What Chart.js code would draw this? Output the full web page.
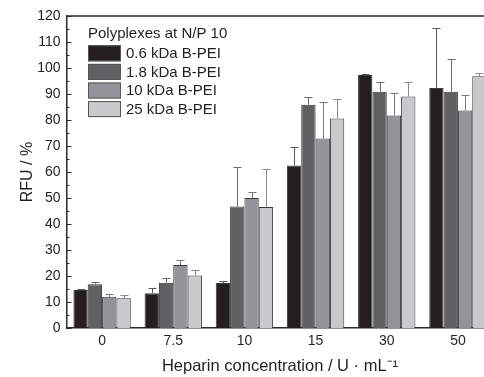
<!DOCTYPE html>
<html>
<head>
<meta charset="utf-8">
<script src="https://cdn.jsdelivr.net/npm/chart.js@4.4.1/dist/chart.umd.min.js"></script>
<style>
  html, body { margin: 0; padding: 0; background: #fff; width: 484px; height: 377px; overflow: hidden; }
  #wrap { width: 500px; height: 377px; }
</style>
</head>
<body>
<div id="wrap"><canvas id="chart" width="500" height="377"></canvas></div>
<script>
// Heparin concentrations (U/mL)
const categories = ['0', '7.5', '10', '15', '30', '50'];
const seriesLabels = ['0.6 kDa B-PEI', '1.8 kDa B-PEI', '10 kDa B-PEI', '25 kDa B-PEI'];

// Relative fluorescence (%) and upper standard deviations
const pei06 = [14.6, 13.4, 17.3, 62.5, 97.3, 92.3];
const pei06Err = [0.5, 2.0, 0.8, 7.3, 0.4, 23.1];
const pei18 = [16.8, 17.4, 46.7, 85.9, 90.9, 90.9];
const pei18Err = [0.9, 1.8, 15.2, 2.9, 3.9, 12.7];
const pei10 = [12.0, 24.2, 50.0, 72.9, 81.7, 83.7];
const pei10Err = [1.2, 2.0, 2.4, 14.0, 8.5, 6.1];
const pei25 = [11.4, 20.2, 46.5, 80.6, 89.0, 96.8];
const pei25Err = [1.4, 2.1, 14.5, 7.3, 5.8, 1.1];

const yMin = 0, yMax = 120, yStep = 10, yMinorStep = 5;

const FONT = "'Liberation Sans', Arial, Helvetica, sans-serif";
const INK = '#231f20';
const fills = ['#231f20', '#616163', '#939497', '#c8c9cb'];
const errColors = ['#5a5a5a', '#6a6a6a', '#7a7a7a', '#8a8a8a'];

const values = [pei06, pei18, pei10, pei25];
const errors = [pei06Err, pei18Err, pei10Err, pei25Err];

const datasets = seriesLabels.map((label, i) => ({
  label,
  data: values[i],
  errors: errors[i],
  errorColor: errColors[i],
  backgroundColor: fills[i],
  borderColor: '#3a3a3a',
  borderWidth: 1,
  categoryPercentage: 0.806,
  barPercentage: 1.0
}));

// Upper error bars with caps
const errorBars = {
  id: 'errorBars',
  afterDatasetsDraw(chart) {
    const ctx = chart.ctx, ys = chart.scales.y;
    ctx.save();
    ctx.lineWidth = 1;
    chart.data.datasets.forEach((ds, i) => {
      chart.getDatasetMeta(i).data.forEach((bar, j) => {
        const v = ds.data[j], e = ds.errors[j];
        const x = Math.round(bar.x) + 0.5;
        const yBar = ys.getPixelForValue(v);
        const yTop = Math.round(ys.getPixelForValue(v + e)) + 0.5;
        ctx.strokeStyle = ds.errorColor;
        ctx.beginPath();
        ctx.moveTo(x, yBar);
        ctx.lineTo(x, yTop);
        ctx.moveTo(x - 4, yTop);
        ctx.lineTo(x + 4, yTop);
        ctx.stroke();
      });
    });
    ctx.restore();
  }
};

// Frame, inward y ticks and the in-plot legend
const frameAndLegend = {
  id: 'frameAndLegend',
  afterDraw(chart) {
    const ctx = chart.ctx, a = chart.chartArea, ys = chart.scales.y;
    ctx.save();
    ctx.strokeStyle = '#2b2b2b';
    ctx.lineWidth = 1.5;
    ctx.beginPath();
    ctx.moveTo(a.left, a.top);
    ctx.lineTo(a.right, a.top);
    ctx.lineTo(a.right, a.bottom);
    ctx.stroke();

    ctx.lineWidth = 1;
    for (let v = yMin; v <= yMax; v += yMinorStep) {
      const y = Math.round(ys.getPixelForValue(v)) + 0.5;
      const len = (v % yStep === 0) ? 5 : 3;
      ctx.beginPath();
      ctx.moveTo(a.left, y);
      ctx.lineTo(a.left + len, y);
      ctx.stroke();
    }

    // legend
    const lx = 88, boxW = 33, boxH = 16, rowH = 18.6, firstRow = 53.3;
    ctx.fillStyle = INK;
    ctx.font = '15px ' + FONT;
    ctx.textBaseline = 'middle';
    ctx.textAlign = 'left';
    ctx.fillText('Polyplexes at N/P 10', lx, 34);
    chart.data.datasets.forEach((ds, i) => {
      const cy = firstRow + i * rowH;
      ctx.fillStyle = ds.backgroundColor;
      ctx.fillRect(lx, cy - boxH / 2, boxW, boxH);
      ctx.strokeStyle = '#555';
      ctx.lineWidth = 1;
      ctx.strokeRect(lx + 0.5, cy - boxH / 2 + 0.5, boxW - 1, boxH - 1);
      ctx.fillStyle = INK;
      ctx.fillText(ds.label, lx + boxW + 5, cy + 0.5);
    });
    ctx.restore();
  }
};

new Chart(document.getElementById('chart'), {
  type: 'bar',
  data: { labels: categories, datasets },
  options: {
    responsive: false,
    animation: false,
    layout: { padding: { left: 0, right: 6.5, top: 16, bottom: 0 } },
    plugins: { legend: { display: false }, tooltip: { enabled: false } },
    scales: {
      x: {
        offset: true,
        grid: { display: false, drawTicks: false },
        border: { display: true, color: '#2b2b2b', width: 1.5 },
        ticks: { color: INK, font: { family: FONT, size: 14 }, padding: 5 },
        title: {
          display: true,
          text: 'Heparin concentration / U · mL⁻¹',
          color: INK,
          font: { family: FONT, size: 16.5 },
          padding: { top: 0, bottom: 1 }
        },
        afterFit(scale) { scale.height = 49; }
      },
      y: {
        min: yMin,
        max: yMax,
        grid: { display: false, drawTicks: false },
        border: { display: true, color: '#2b2b2b', width: 1.5 },
        ticks: { stepSize: yStep, color: INK, font: { family: FONT, size: 14 }, padding: 6 },
        title: {
          display: true,
          text: 'RFU / %',
          color: INK,
          font: { family: FONT, size: 16 },
          padding: { top: 18, bottom: 0 }
        },
        afterFit(scale) { scale.width = 66.5; }
      }
    }
  },
  plugins: [errorBars, frameAndLegend]
});
</script>
</body>
</html>
